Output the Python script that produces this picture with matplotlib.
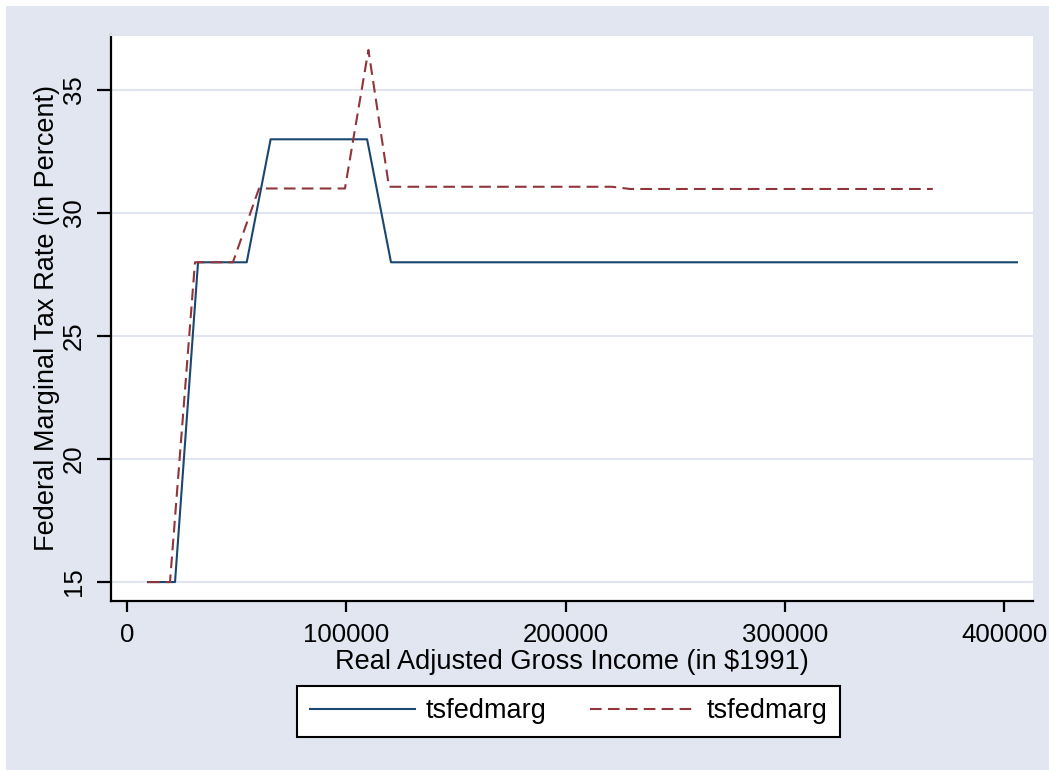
import matplotlib
matplotlib.use("Agg")
import matplotlib.pyplot as plt
from matplotlib.patches import Rectangle

# income points (real AGI, $1991) and marginal rates
inc_a = [9600, 21900, 32400, 54600, 65500, 109500, 120400, 405900]
rate_a = [15, 15, 28, 28, 33, 33, 28, 28]

inc_b = [9600, 19600, 31000, 48300, 60200, 99400, 110100, 119500, 221200, 229400, 367500]
rate_b = [15, 15, 28, 28, 31, 31, 36.63, 31.07, 31.07, 30.98, 30.98]

xticks = [0, 100000, 200000, 300000, 400000]
yticks = [15, 20, 25, 30, 35]

navy = "#1a476f"
maroon = "#90353b"
bg = "#e2e6f1"
grid = "#e1e5ef"

plt.rcParams["font.family"] = ["Liberation Sans", "DejaVu Sans"]
plt.rcParams["font.size"] = 18.5

fig = plt.figure(figsize=(10.49, 7.70), dpi=100, facecolor=bg)
# thin white margin on top and left like the source export
fig.patches.append(Rectangle((0, 1 - 6 / 770), 1, 6 / 770, transform=fig.transFigure,
                             facecolor="white", edgecolor="none", zorder=0))
fig.patches.append(Rectangle((0, 0), 6 / 1049, 1, transform=fig.transFigure,
                             facecolor="white", edgecolor="none", zorder=0))

ax = fig.add_axes([111 / 1049, 1 - 601 / 770, (1033 - 111) / 1049, (601 - 35) / 770])
ax.set_facecolor("white")

ax.plot(inc_a, rate_a, color=navy, lw=1.5, label="tsfedmarg")
ax.plot(inc_b, rate_b, color=maroon, lw=1.5, dashes=[5.6, 3.0], label="tsfedmarg")

ax.set_xlim(-7300, 413200)
ax.set_ylim(14.23, 37.24)
ax.set_xticks(xticks)
ax.set_xticklabels([str(v) for v in xticks])
ax.set_yticks(yticks)
ax.set_yticklabels([str(v) for v in yticks], rotation=90, va="center")

ax.yaxis.grid(True, color=grid, lw=1.5)
ax.set_axisbelow(True)

ax.spines["right"].set_visible(False)
ax.spines["top"].set_color(grid)
ax.spines["top"].set_linewidth(1.5)
ax.spines["left"].set_linewidth(1.6)
ax.spines["bottom"].set_linewidth(1.6)
ax.tick_params(axis="both", direction="out", width=1.6, color="black")
ax.tick_params(axis="x", length=8, pad=8)
ax.tick_params(axis="y", length=10, pad=8)

ax.set_xlabel("Real Adjusted Gross Income (in \\$1991)", fontsize=19.5, labelpad=1)
ax.set_ylabel("Federal Marginal Tax Rate (in Percent)", fontsize=19.5, labelpad=1.5)

leg = fig.legend(loc="center", bbox_to_anchor=(568.5 / 1049, 1 - 711.5 / 770), ncol=2,
                 frameon=True, fancybox=False, edgecolor="black", facecolor="white",
                 framealpha=1, fontsize=19.5, handlelength=3.9, columnspacing=1.6,
                 handletextpad=0.4, borderpad=0.45)
leg.get_frame().set_linewidth(1.5)

fig.savefig("out.png", dpi=100, facecolor=bg)
